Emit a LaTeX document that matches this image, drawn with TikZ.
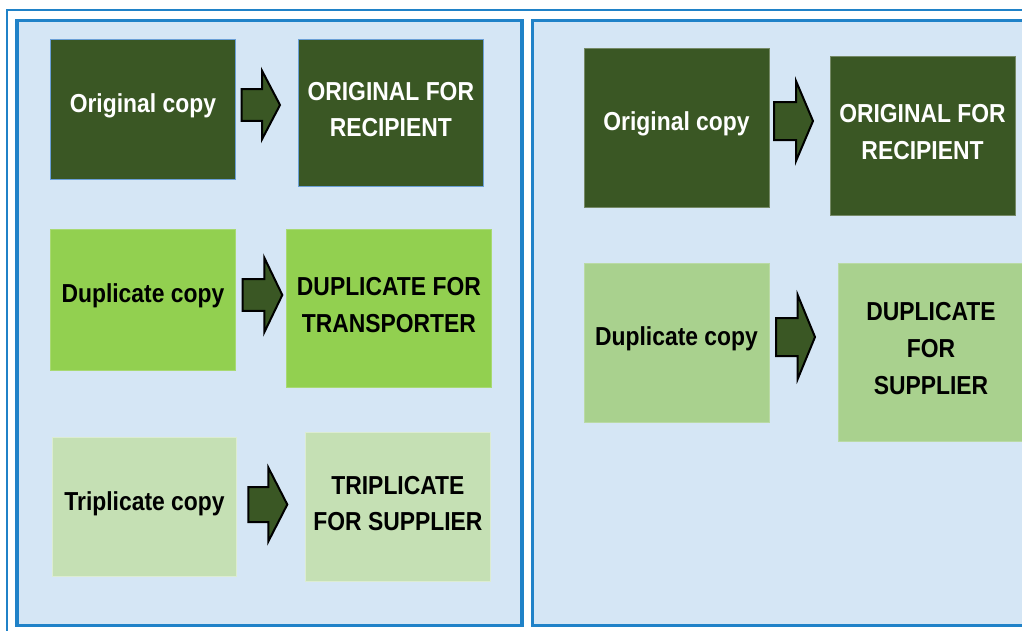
\documentclass[tikz,border=0pt]{standalone}
\usepackage{fontspec}
\setmainfont{Liberation Sans}[FakeStretch=0.88]
\definecolor{panelbg}{HTML}{D5E6F5}
\definecolor{frameblue}{HTML}{2082C8}
\definecolor{darkgreen}{HTML}{3A5724}
\definecolor{brightgreen}{HTML}{92D050}
\definecolor{palegreen}{HTML}{C5E0B4}
\definecolor{midgreen}{HTML}{A9D18E}
\definecolor{edgeblue}{HTML}{6A9FD6}
\tikzset{
  panel/.style={draw=frameblue, line width=3.5pt, fill=panelbg},
  copybox/.style={inner sep=0pt, line width=0.8pt},
  copytext/.style={inner sep=0pt, align=center,
    font=\fontsize{26}{36.7}\selectfont\bfseries},
  darkbox/.style={copybox, fill=darkgreen, draw=edgeblue},
  darkboxr/.style={copybox, fill=darkgreen, draw=darkgreen!70!white},
  brightbox/.style={copybox, fill=brightgreen, draw=brightgreen!80!white},
  palebox/.style={copybox, fill=palegreen, draw=palegreen!60!white},
  midbox/.style={copybox, fill=midgreen, draw=midgreen!80!white},
  arrowshape/.style={draw=black, line width=2pt, fill=darkgreen, line join=miter}
}
% copy box: name, box style, text colour, centre x, centre y, width, height, label
\newcommand\copynode[8]{%
  \node[#2, minimum width=#6pt, minimum height=#7pt] (#1) at (#4,#5) {};
  \node[copytext, text=#3] (#1-text) at ([yshift=3.5pt]#1.center) {#8};}
% block arrow: tail x, head start x, tip x, centre y, shaft half height, head half height
\newcommand\blockarrow[6]{%
  \draw[arrowshape] (#1,#4-#5) -- (#2,#4-#5) -- (#2,#4-#6) -- (#3,#4)
    -- (#2,#4+#6) -- (#2,#4+#5) -- (#1,#4+#5) -- cycle;}
\begin{document}
\begin{tikzpicture}[x=1pt, y=-1pt]
\useasboundingbox (0,0) rectangle (1022,630);
\clip (0,0) rectangle (1022,630);
\fill[white] (0,0) rectangle (1022,630);

% outer frame
\draw[frameblue, line width=2pt] (6.7,700) -- (6.7,10) -- (1100,10);

% panels
\draw[panel] (17,20.5) rectangle (522,625.5);
\draw[panel] (532.7,20.5) rectangle (1100,625.5);

% left panel: three copies
\copynode{orig}{darkbox}{white}{142.9}{109}{185.7}{140}{Original copy}
\copynode{origfor}{darkbox}{white}{390.8}{113}{185}{147.4}{ORIGINAL FOR\\RECIPIENT}
\copynode{dup}{brightbox}{black}{142.9}{299.7}{185.7}{140.7}{Duplicate copy}
\copynode{dupfor}{brightbox}{black}{388.9}{308.2}{204.3}{158.3}{DUPLICATE FOR\\TRANSPORTER}
\copynode{trip}{palebox}{black}{144.5}{507}{184.4}{139.4}{Triplicate copy}
\copynode{tripfor}{palebox}{black}{397.9}{507}{185.7}{149.4}{TRIPLICATE\\FOR SUPPLIER}

\blockarrow{241.7}{262}{280}{105}{15.8}{34.3}
\blockarrow{242.7}{264.3}{282.3}{295}{15.8}{37.3}
\blockarrow{248.3}{268.3}{287.3}{504.5}{17.5}{37}

% right panel: two copies
\copynode{origr}{darkboxr}{white}{676.5}{127.5}{185}{159}{Original copy}
\copynode{origforr}{darkboxr}{white}{922.5}{135.8}{185}{158.3}{ORIGINAL FOR\\RECIPIENT}
\copynode{dupr}{midbox}{black}{676.5}{342.5}{185}{159}{Duplicate copy}
\copynode{dupforr}{midbox}{black}{931}{352}{186}{178}{DUPLICATE\\FOR\\SUPPLIER}

\blockarrow{774}{796}{813}{121}{19}{40}
\blockarrow{776}{797.7}{815}{337}{19}{42}
\end{tikzpicture}
\end{document}
